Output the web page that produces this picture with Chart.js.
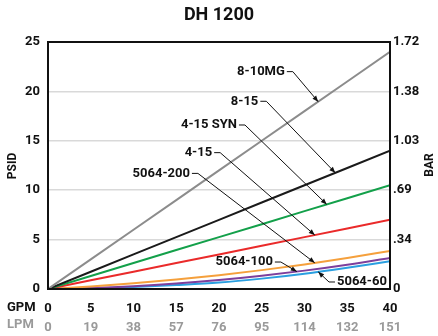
<!DOCTYPE html>
<html>
<head>
<meta charset="utf-8">
<script src="https://cdn.jsdelivr.net/npm/chart.js@4.4.1/dist/chart.umd.min.js"></script>
<style>
    html, body { margin: 0; padding: 0; background: #fff; }
    #wrap { width: 438px; height: 336px; }
</style>
</head>
<body>
<div id="wrap"><canvas id="dh1200Chart" width="438" height="336"></canvas></div>
<script>
// Chart data
const gpm = [0, 5, 10, 15, 20, 25, 30, 35, 40];
const lpm = ['0', '19', '38', '57', '76', '95', '114', '132', '151'];
const barTicks = ['0', '.34', '.69', '1.03', '1.38', '1.72'];

const psid810MG = [0, 3, 6, 9, 12, 15, 18, 21, 24];
const psid815 = [0, 1.75, 3.5, 5.25, 7, 8.75, 10.5, 12.25, 14];
const psid415SYN = [0, 1.31, 2.63, 3.94, 5.25, 6.56, 7.88, 9.19, 10.5];
const psid415 = [0, 0.88, 1.75, 2.63, 3.5, 4.38, 5.25, 6.13, 7];
const psid5064_200 = [0, 0.25, 0.57, 0.95, 1.4, 1.91, 2.49, 3.14, 3.85];
const psid5064_100 = [0, 0.1, 0.28, 0.55, 0.9, 1.34, 1.86, 2.46, 3.15];
const psid5064_60 = [0, 0.05, 0.2, 0.4, 0.65, 1.05, 1.55, 2.15, 2.8];

const FONT = "Roboto, 'Liberation Sans', sans-serif";

const series = [
    { label: '8-10MG', values: psid810MG, color: '#8c8c8c', curve: false },
    { label: '8-15', values: psid815, color: '#1a1a1a', curve: false },
    { label: '4-15 SYN', values: psid415SYN, color: '#13a04a', curve: false },
    { label: '4-15', values: psid415, color: '#ea2a2a', curve: false },
    { label: '5064-200', values: psid5064_200, color: '#f5a03c', curve: true },
    { label: '5064-100', values: psid5064_100, color: '#7d3f9c', curve: true },
    { label: '5064-60', values: psid5064_60, color: '#2a9fe0', curve: true },
];

// callout placement: text anchor (gpm, psid) and where the arrow hits the curve (gpm)
const callouts = [
    { idx: 0, tx: 27.7, ty: 22.0, hit: 31.6, side: 'left' },
    { idx: 1, tx: 24.6, ty: 19.0, hit: 33.6, side: 'left' },
    { idx: 2, tx: 22.1, ty: 16.6, hit: 32.6, side: 'left' },
    { idx: 3, tx: 19.2, ty: 13.8, hit: 31.2, side: 'left' },
    { idx: 4, tx: 16.6, ty: 11.7, hit: 31.2, side: 'left' },
    { idx: 5, tx: 26.3, ty: 2.73, hit: 29.1, side: 'left' },
    { idx: 6, tx: 33.8, ty: 0.71, hit: 31.6, side: 'right' },
];

function valueAt(values, x) {
    for (let i = 1; i < gpm.length; i++) {
        if (x <= gpm[i]) {
            const t = (x - gpm[i - 1]) / (gpm[i] - gpm[i - 1]);
            return values[i - 1] + t * (values[i] - values[i - 1]);
        }
    }
    return values[values.length - 1];
}

function arrow(ctx, x0, y0, x1, y1) {
    const a = Math.atan2(y1 - y0, x1 - x0);
    const len = 6, hw = 2.4;
    ctx.beginPath();
    ctx.moveTo(x1, y1);
    ctx.lineTo(x1 - len * Math.cos(a) + hw * Math.sin(a), y1 - len * Math.sin(a) - hw * Math.cos(a));
    ctx.lineTo(x1 - len * Math.cos(a) - hw * Math.sin(a), y1 - len * Math.sin(a) + hw * Math.cos(a));
    ctx.closePath();
    ctx.fill();
}

// Draws title, axis names, frame and callouts
Chart.register({
    id: 'dhDecor',
    afterDatasetsDraw(chart) {
        const ctx = chart.ctx;
        const area = chart.chartArea;
        const xs = chart.scales.x;
        const ys = chart.scales.y;
        ctx.save();

        // frame
        ctx.strokeStyle = '#111';
        ctx.lineWidth = 2;
        ctx.strokeRect(area.left, area.top, area.right - area.left, area.bottom - area.top);

        // title
        ctx.fillStyle = '#111';
        ctx.font = `bold 18px ${FONT}`;
        ctx.textAlign = 'center';
        ctx.textBaseline = 'middle';
        ctx.fillText('DH 1200', (area.left + area.right) / 2, 15);

        // axis names
        ctx.font = `bold 12px ${FONT}`;
        ctx.save();
        ctx.translate(13, 166);
        ctx.rotate(-Math.PI / 2);
        ctx.fillText('PSID', 0, 0);
        ctx.restore();
        ctx.save();
        ctx.translate(430, 165);
        ctx.rotate(-Math.PI / 2);
        ctx.fillText('BAR', 0, 0);
        ctx.restore();

        ctx.font = `bold 13px ${FONT}`;
        ctx.textAlign = 'left';
        ctx.fillText('GPM', 7, 308);
        ctx.fillStyle = '#9a9a9a';
        ctx.fillText('LPM', 7, 325);

        // callouts
        ctx.fillStyle = '#111';
        ctx.strokeStyle = '#111';
        ctx.lineWidth = 1;
        ctx.font = `bold 13px ${FONT}`;
        callouts.forEach(c => {
            const s = series[c.idx];
            const px = xs.getPixelForValue(c.tx);
            const py = ys.getPixelForValue(c.ty);
            const hx = xs.getPixelForValue(c.hit);
            const hy = ys.getPixelForValue(valueAt(s.values, c.hit));
            let sx, ex;
            if (c.side === 'left') {
                ctx.textAlign = 'right';
                ctx.fillText(s.label, px, py);
                sx = px + 2; ex = px + 8;
            } else {
                ctx.textAlign = 'left';
                ctx.fillText(s.label, px, py);
                sx = px - 2; ex = px - 8;
            }
            ctx.beginPath();
            ctx.moveTo(sx, py);
            ctx.lineTo(ex, py);
            ctx.lineTo(hx, hy);
            ctx.stroke();
            arrow(ctx, ex, py, hx, hy);
        });
        ctx.restore();
    },
});

const tickFont = { family: FONT, size: 13, weight: 'bold' };

new Chart(document.getElementById('dh1200Chart').getContext('2d'), {
    type: 'line',
    data: {
        datasets: series.map(s => ({
            label: s.label,
            data: gpm.map((g, i) => ({ x: g, y: s.values[i] })),
            borderColor: s.color,
            borderWidth: 2,
            pointRadius: 0,
            cubicInterpolationMode: s.curve ? 'monotone' : 'default',
            tension: s.curve ? 0.4 : 0,
            xAxisID: 'x',
            yAxisID: 'y',
        })),
    },
    options: {
        responsive: false,
        animation: false,
        layout: { padding: { top: 42, left: 0, right: 0, bottom: 0 } },
        plugins: {
            legend: { display: false },
            tooltip: { enabled: false },
        },
        scales: {
            x: {
                type: 'linear', position: 'bottom', min: 0, max: 40,
                ticks: { stepSize: 5, font: tickFont, color: '#111', padding: 12, maxRotation: 0 },
                grid: { display: false, drawTicks: false },
                border: { display: false },
                afterFit: s => { s.height = 28; },
            },
            x2: {
                type: 'linear', position: 'bottom', min: 0, max: 40,
                ticks: {
                    stepSize: 5, font: tickFont, color: '#9a9a9a', padding: 3, maxRotation: 0,
                    callback: v => lpm[gpm.indexOf(v)],
                },
                grid: { display: false, drawTicks: false },
                border: { display: false },
                afterFit: s => { s.height = 19; },
            },
            y: {
                position: 'left', min: 0, max: 25,
                ticks: { stepSize: 5, font: tickFont, color: '#111', padding: 8 },
                grid: { color: '#d9d9d9', lineWidth: 1.5, drawTicks: false },
                border: { display: false },
                afterFit: s => { s.width = 48; },
            },
            y2: {
                position: 'right', min: 0, max: 25,
                ticks: {
                    stepSize: 5, font: tickFont, color: '#111', padding: 3,
                    callback: v => barTicks[v / 5],
                },
                grid: { display: false, drawTicks: false },
                border: { display: false },
                afterFit: s => { s.width = 48; },
            },
        },
    },
});
</script>
</body>
</html>
